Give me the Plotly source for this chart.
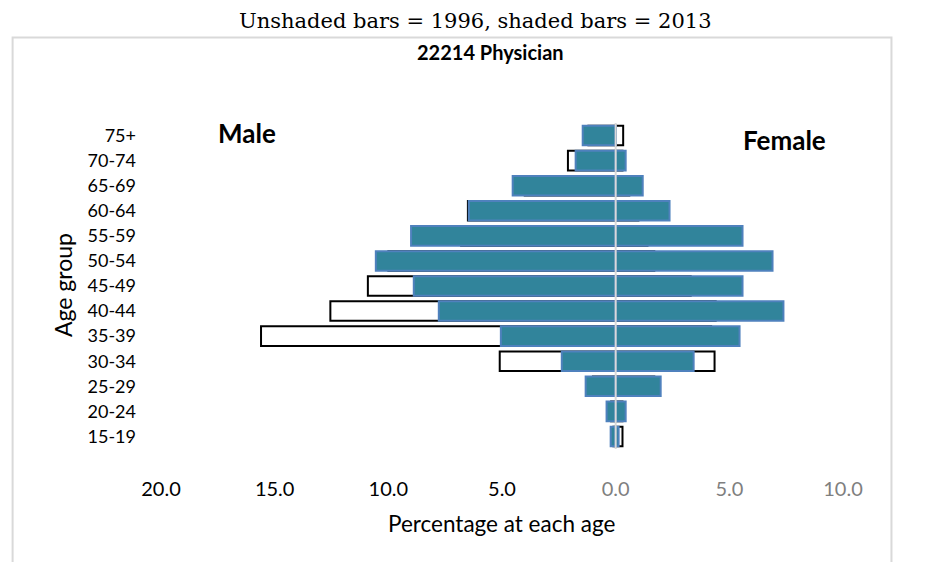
"""
Age pyramid for 22214 Physician, 1996 vs 2013
"""
import plotly.graph_objects as go

# --- data (percentage at each age) ---
age_groups = ['15-19', '20-24', '25-29', '30-34', '35-39', '40-44', '45-49',
              '50-54', '55-59', '60-64', '65-69', '70-74', '75+']
male_1996 = [0.1, 0.2, 1.0, 5.1, 15.6, 12.55, 10.9, 10.0, 6.8, 6.5, 4.0, 2.1, 1.2]
female_1996 = [0.3, 0.3, 1.7, 4.35, 4.2, 4.4, 3.3, 1.7, 1.4, 1.0, 0.6, 0.3, 0.33]
male_2013 = [0.22, 0.4, 1.32, 2.37, 5.05, 7.78, 8.88, 10.55, 9.0, 6.46, 4.53, 1.76, 1.45]
female_2013 = [0.13, 0.44, 1.98, 3.43, 5.45, 7.38, 5.58, 6.9, 5.58, 2.37, 1.19, 0.44, 0.0]

tick_vals = [-20, -15, -10, -5, 0, 5, 10]
tick_labels = ['20.0', '15.0', '10.0', '5.0', '0.0', '5.0', '10.0']

# --- page geometry (px, in screenshot coordinates) ---
OFF = 8                      # default body margin of the html page
W, H = 947 - OFF, 562 - OFF
ML = 161 - OFF
MT = 123 - OFF
MB = H - (449 - OFF)
MR = W - (843.5 - OFF)
PW = W - ML - MR
PH = H - MT - MB


def px(x):
    return (x - OFF - ML) / PW


def py(y):
    return (H - MB - (y - OFF)) / PH


TEAL = '#31849B'
BLUE = '#4F81BD'
GREY = '#D9D9D9'

fig = go.Figure()

# unshaded bars (1996) sit behind
fig.add_trace(go.Bar(
    y=age_groups, x=[-v for v in male_1996], orientation='h',
    marker=dict(color='white', line=dict(color='black', width=2)),
    width=0.78, name='Male 1996', showlegend=False
))
fig.add_trace(go.Bar(
    y=age_groups, x=female_1996, orientation='h',
    marker=dict(color='white', line=dict(color='black', width=2)),
    width=0.78, name='Female 1996', showlegend=False
))
# shaded bars (2013) on top
fig.add_trace(go.Bar(
    y=age_groups, x=[-v for v in male_2013], orientation='h',
    marker=dict(color=TEAL, line=dict(color=BLUE, width=2)),
    width=0.78, name='Male 2013', showlegend=False
))
fig.add_trace(go.Bar(
    y=age_groups, x=female_2013, orientation='h',
    marker=dict(color=TEAL, line=dict(color=BLUE, width=2)),
    width=0.78, name='Female 2013', showlegend=False
))

ticktext = []
for v, t in zip(tick_vals, tick_labels):
    if v >= 0:
        ticktext.append(f"<span style='color:#7F7F7F'>{t}</span>")
    else:
        ticktext.append(t)


def label(text, x, y, size, **kw):
    return dict(text=text, xref='paper', yref='paper', x=px(x), y=py(y),
                xanchor='center', yanchor='middle', showarrow=False,
                font=dict(size=size, **kw.pop('font', {})), **kw)


fig.update_layout(
    width=W, height=H,
    margin=dict(l=ML, r=MR, t=MT, b=MB),
    barmode='overlay',
    paper_bgcolor='white', plot_bgcolor='white',
    font=dict(family='Lato', color='#000000'),
    xaxis=dict(
        range=[-20, 10], tickvals=tick_vals, ticktext=ticktext,
        showgrid=False, zeroline=False, showline=False, ticks='',
        tickfont=dict(size=20, color='#000000'), ticklabelstandoff=26
    ),
    yaxis=dict(
        categoryorder='array', categoryarray=age_groups,
        range=[-0.5, 12.5],
        showgrid=False, zeroline=False, showline=False, ticks='',
        tickfont=dict(size=18, color='#000000'), ticklabelstandoff=24
    ),
    shapes=[
        # chart frame
        dict(type='rect', xref='paper', yref='paper',
             x0=px(12.5), x1=px(892), y0=py(600), y1=py(37.5),
             line=dict(color=GREY, width=2), layer='below'),
        # centre line
        dict(type='line', xref='x', yref='paper', x0=0, x1=0, y0=0, y1=1,
             line=dict(color=GREY, width=2), layer='above'),
    ],
    annotations=[
        label('Unshaded bars = 1996, shaded bars = 2013', 476, 21, 21,
              font=dict(family='DejaVu Serif')),
        label('<b>22214 Physician</b>', 491, 52, 20),
        label('<b>Male</b>', 247, 133, 26),
        label('<b>Female</b>', 785, 140, 26),
        label('Age group', 63, 285, 23, textangle=-90),
        label('Percentage at each age', 502, 523, 22.5),
    ],
)

fig.write_html("out.html")
